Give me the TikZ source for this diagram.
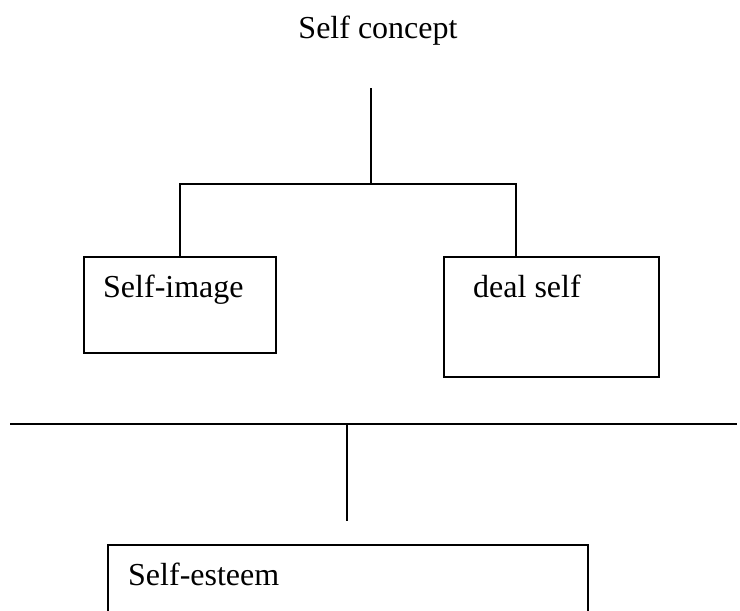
\documentclass[tikz,border=0pt]{standalone}
\usepackage{fontspec}
\setmainfont{Liberation Serif}
\begin{document}
\begin{tikzpicture}[x=1pt,y=-1pt,
  box/.style={draw, line width=1.5pt, rectangle, inner sep=0pt, anchor=north west},
  link/.style={line width=1.5pt},
  lbl/.style={anchor=base west, inner sep=0pt, font=\fontsize{32}{38}\selectfont}]
\useasboundingbox (0,0) rectangle (740,611);
\clip (0,0) rectangle (740,611);

% heading
\node[lbl, anchor=base] (title) at (378,38) {Self concept};

% first level: two boxes
\node[box, minimum width=192pt, minimum height=96pt] (img) at (83,256) {};
\node[lbl] (imgtxt) at (103,297) {Self-image};
\node[box, minimum width=215pt, minimum height=120pt] (ideal) at (443,256) {};
\node[lbl] (idealtxt) at (473,297) {deal self};

% branching connector
\coordinate (stem) at (371,88);
\coordinate (split) at (371,184);
\draw[link] (stem) -- (split);
\draw[link] (img.north) |- (split);
\draw[link] (split) -| ([xshift=73pt]ideal.north west);

% dividing rule and drop line
\coordinate (ruleL) at (10,424);
\coordinate (ruleR) at (737,424);
\coordinate (drop) at (347,424);
\coordinate (dropEnd) at (347,521);
\draw[link] (ruleL) -- (ruleR);
\draw[link] (drop) -- (dropEnd);

% bottom box, running past the lower edge
\node[box, minimum width=480pt, minimum height=90pt] (esteem) at (107,544) {};
\node[lbl] (esteemtxt) at (128,585) {Self-esteem};
\end{tikzpicture}
\end{document}
